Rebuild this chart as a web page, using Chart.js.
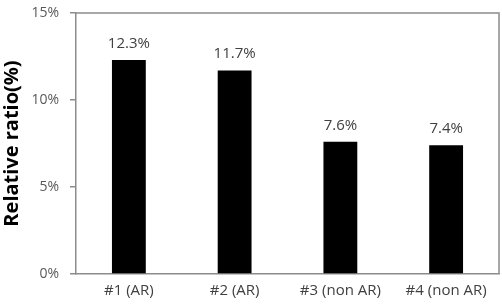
<!DOCTYPE html>
<html>
<head>
<meta charset="utf-8">
<script src="https://cdn.jsdelivr.net/npm/chart.js@4"></script>
<style>
  html, body { margin: 0; padding: 0; background: #fff; }
  #wrap { width: 502px; height: 308px; }
</style>
</head>
<body>
<div id="wrap"><canvas id="chartCanvas" width="502" height="308"></canvas></div>
<script>
const categories = ["#1 (AR)", "#2 (AR)", "#3 (non AR)", "#4 (non AR)"];
const ratios = [12.3, 11.7, 7.6, 7.4];
const yTicks = [0, 5, 10, 15];
const yTitle = "Relative ratio(%)";

const FONT = "'Open Sans', sans-serif";

// data labels over each bar + the plot area frame (top / right)
const labelsPlugin = {
  id: "labels",
  afterDatasetsDraw(c) {
    const ctx = c.ctx;
    const area = c.chartArea;
    ctx.save();
    ctx.strokeStyle = "#8c8c8c";
    ctx.lineWidth = 1.5;
    ctx.beginPath();
    ctx.moveTo(area.left, area.top);
    ctx.lineTo(area.right, area.top);
    ctx.lineTo(area.right, area.bottom);
    ctx.stroke();

    ctx.fillStyle = "#404040";
    ctx.font = "15px " + FONT;
    ctx.textAlign = "center";
    ctx.textBaseline = "alphabetic";
    c.getDatasetMeta(0).data.forEach((bar, i) => {
      ctx.fillText(ratios[i].toFixed(1) + "%", bar.x, bar.y - 12);
    });
    ctx.restore();
  }
};

chart = new Chart(document.getElementById("chartCanvas"), {
  type: "bar",
  data: {
    labels: categories,
    datasets: [{
      data: ratios,
      backgroundColor: "#000",
      borderWidth: 0,
      barPercentage: 0.32,
      categoryPercentage: 1
    }]
  },
  options: {
    responsive: false,
    animation: false,
    layout: { padding: { top: 13, right: 3, left: 0, bottom: 0 } },
    plugins: { legend: { display: false }, tooltip: { enabled: false } },
    scales: {
      x: {
        grid: { display: false, drawTicks: false },
        border: { display: true, color: "#8c8c8c", width: 1.5 },
        ticks: { color: "#404040", font: { family: FONT, size: 15 }, padding: 8, maxRotation: 0 },
        afterFit: s => { s.height = 34; s.paddingLeft = 0; s.paddingRight = 0; }
      },
      y: {
        min: 0,
        max: 15,
        afterBuildTicks: s => { s.ticks = yTicks.map(v => ({ value: v })); },
        grid: { drawOnChartArea: false, tickLength: 6, color: "#8c8c8c", lineWidth: 1.5 },
        border: { display: true, color: "#8c8c8c", width: 1.5 },
        ticks: {
          color: "#595959",
          font: { family: FONT, size: 14 },
          padding: 11,
          callback: v => v + "%"
        },
        title: {
          display: true,
          text: yTitle,
          color: "#000",
          font: { family: FONT, size: 20, weight: "bold" },
          padding: { top: 0, bottom: 0 }
        },
        afterFit: s => { s.width = 76; s.paddingTop = 0; s.paddingBottom = 0; }
      }
    }
  },
  plugins: [labelsPlugin]
});
</script>
</body>
</html>
